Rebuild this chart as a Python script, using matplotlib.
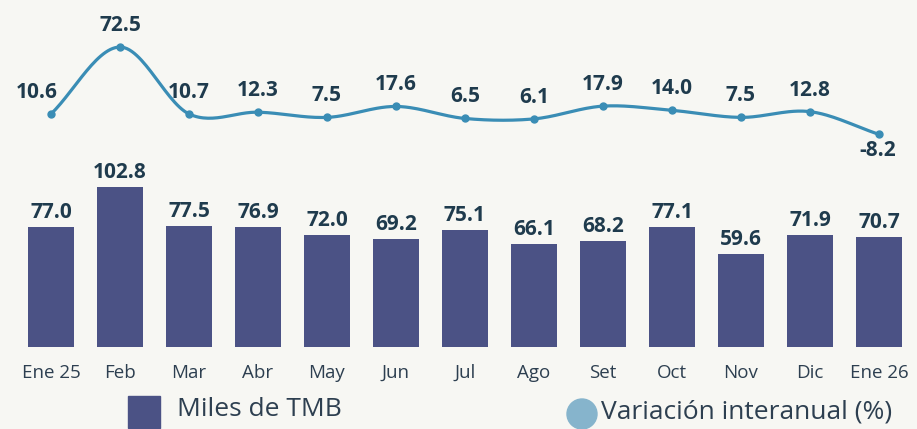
import numpy as np
import matplotlib
matplotlib.use("Agg")
import matplotlib.pyplot as plt
from matplotlib.patches import Rectangle, Ellipse

months = ["Ene 25", "Feb", "Mar", "Abr", "May", "Jun", "Jul", "Ago", "Set", "Oct", "Nov", "Dic", "Ene 26"]
miles_tmb = [77.0, 102.8, 77.5, 76.9, 72.0, 69.2, 75.1, 66.1, 68.2, 77.1, 59.6, 71.9, 70.7]
variacion = [10.6, 72.5, 10.7, 12.3, 7.5, 17.6, 6.5, 6.1, 17.9, 14.0, 7.5, 12.8, -8.2]

bg = "#f7f7f3"
bar_col = "#4b5285"
line_col = "#3a8db5"
lab_col = "#1f3b4d"
tick_col = "#2d3f50"

plt.rcParams["font.family"] = ["Open Sans", "DejaVu Sans"]

fig = plt.figure(figsize=(9.17, 4.29), dpi=100, facecolor=bg)
W, H = 917, 429
ax = fig.add_axes([0, (H - 347) / H, 1, 347 / H])
ax.set_facecolor(bg)

x = np.arange(len(months))
step = 69.0
x0 = 51.0
ax.set_xlim((0 - x0) / step, (W - x0) / step)
ax.set_ylim(0, 347 / 1.556)

ax.bar(x, miles_tmb, width=0.67, color=bar_col)
for xi, v in zip(x, miles_tmb):
    ax.annotate(f"{v:.1f}", (xi, v), xytext=(0, 3), textcoords="offset points",
                ha="center", va="bottom", fontsize=15, fontweight="bold", color=lab_col)

for s in ax.spines.values():
    s.set_visible(False)
ax.set_yticks([])
ax.set_xticks(x)
ax.set_xticklabels(months, fontsize=13.5, color=tick_col)
ax.tick_params(axis="x", length=0, pad=12)

# line on twin axis
ax2 = ax.twinx()
zero_px = 347 - 125.5
sc = 1.082
ax2.set_ylim(-zero_px / sc, (347 - zero_px) / sc)
ax2.set_yticks([])
for s in ax2.spines.values():
    s.set_visible(False)

# Catmull-Rom smoothing for the curve drawing
px = x.astype(float)
py = np.array(variacion, dtype=float)
P = np.column_stack([px, py])
Pext = np.vstack([P[0] * 2 - P[1], P, P[-1] * 2 - P[-2]])
cx, cy = [], []
for i in range(1, len(Pext) - 2):
    p0, p1, p2, p3 = Pext[i - 1], Pext[i], Pext[i + 1], Pext[i + 2]
    t = np.linspace(0, 1, 30)[:, None]
    seg = 0.5 * ((2 * p1) + (-p0 + p2) * t + (2 * p0 - 5 * p1 + 4 * p2 - p3) * t ** 2
                 + (-p0 + 3 * p1 - 3 * p2 + p3) * t ** 3)
    cx.extend(seg[:, 0]); cy.extend(seg[:, 1])
ax2.plot(cx, cy, color=line_col, lw=2.3, solid_capstyle="round")
ax2.plot(px, py, "o", color=line_col, ms=5)
for i, (xi, v) in enumerate(zip(px, py)):
    if i == len(px) - 1:
        ax2.annotate(f"{v:.1f}", (xi, v), xytext=(-1, -4), textcoords="offset points",
                     ha="center", va="top", fontsize=15, fontweight="bold", color=lab_col)
    elif i == 0:
        ax2.annotate(f"{v:.1f}", (xi, v), xytext=(-10, 8), textcoords="offset points",
                     ha="center", va="bottom", fontsize=15, fontweight="bold", color=lab_col)
    else:
        ax2.annotate(f"{v:.1f}", (xi, v), xytext=(0, 8), textcoords="offset points",
                     ha="center", va="bottom", fontsize=15, fontweight="bold", color=lab_col)

# legend
fig.patches.append(Rectangle((128 / W, 1 - 428 / H), 32 / W, 32 / H, transform=fig.transFigure,
                             color=bar_col))
fig.text(177 / W, 1 - 410 / H, "Miles de TMB", fontsize=19, color=tick_col, va="center", ha="left")
fig.patches.append(Ellipse((582 / W, 1 - 414 / H), 30 / W, 30 / H, transform=fig.transFigure,
                           color="#86b4cc"))
fig.text(601 / W, 1 - 412 / H, "Variación interanual (%)", fontsize=19, color=tick_col,
         va="center", ha="left")

fig.savefig("out.png", dpi=100, facecolor=bg)
